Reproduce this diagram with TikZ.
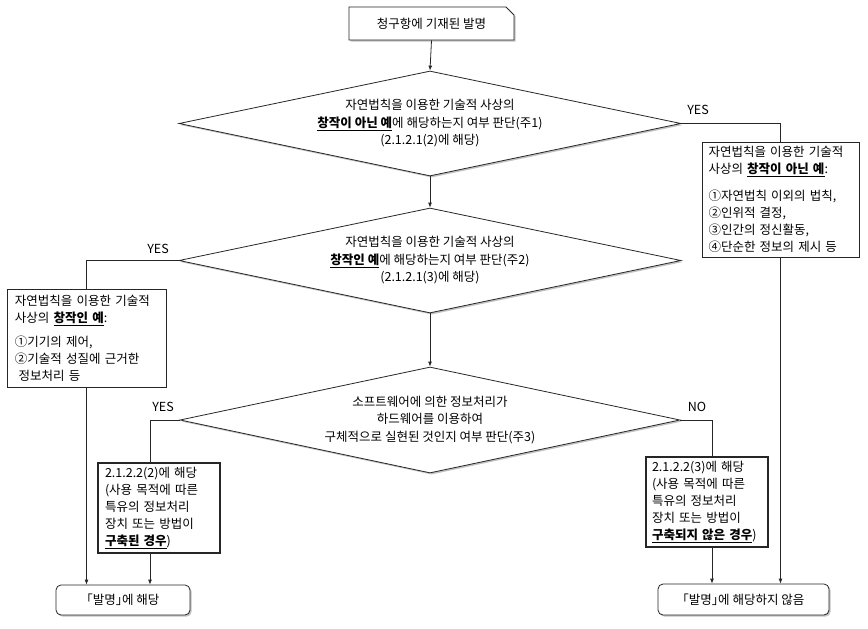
\documentclass[tikz,border=0pt]{standalone}
\usepackage{fontspec}
\setmainfont{Noto Sans CJK KR}
\usetikzlibrary{shapes.geometric,shapes.misc,arrows.meta,shadows}
\tikzset{
  ln/.style={draw=black!85,line width=0.8pt},
  arr/.style={ln,-{Latex[length=5pt,width=4pt]}},
  shd/.style={drop shadow={shadow xshift=1.6pt,shadow yshift=-1.6pt,fill=black!40,opacity=0.6}},
  txt/.style={font=\fontsize{12.5}{17}\selectfont},
  dia/.style={shape=diamond,aspect=4.78,ln,fill=white,shd,inner sep=0pt,align=center,
    font=\fontsize{12.5}{17.5}\selectfont},
  tbox/.style={ln,fill=white,txt,align=left,inner sep=0pt},
  thickbox/.style={tbox,line width=1.7pt},
  endbox/.style={ln,fill=white,shd,rounded corners=5pt,txt,align=center,inner sep=0pt},
  lbl/.style={txt,inner sep=0pt}
}
\newcommand{\ub}[1]{\underline{\textbf{#1}}}
\begin{document}
\begin{tikzpicture}[x=1pt,y=-1pt]
\useasboundingbox (0,0) rectangle (868,629);

\node[shape=chamfered rectangle,chamfered rectangle corners=north east,
  chamfered rectangle xsep=4pt,chamfered rectangle ysep=4pt,
  ln,fill=white,shd,txt,minimum width=165pt,minimum height=33pt,inner sep=0pt]
  (top) at (431.5,23.5) {청구항에 기재된 발명};

\node[dia,minimum width=502pt,minimum height=105pt] (d1) at (430,123.5)
  {자연법칙을 이용한 기술적 사상의\\\ub{창작이 아닌 예}에 해당하는지 여부 판단(주1)\\(2.1.2.1(2)에 해당)};

\node[dia,minimum width=502pt,minimum height=105pt] (d2) at (430,260.5)
  {자연법칙을 이용한 기술적 사상의\\\ub{창작인 예}에 해당하는지 여부 판단(주2)\\(2.1.2.1(3)에 해당)};

\node[dia,minimum width=500pt,minimum height=106pt] (d3) at (430,420)
  {소프트웨어에 의한 정보처리가\\하드웨어를 이용하여\\구체적으로 실현된 것인지 여부 판단(주3)};

\node[tbox,minimum width=157pt,minimum height=115pt,text width=144pt] (rb) at (780.5,199.5)
  {\makebox[\linewidth][s]{자연법칙을 이용한 기술적}\\사상의 \ub{창작이 아닌 예}:\\[10pt]①자연법칙 이외의 법칙,\\②인위적 결정,\\③인간의 정신활동,\\④단순한 정보의 제시 등};

\node[tbox,minimum width=159pt,minimum height=98pt,text width=143pt] (lb) at (86.5,338)
  {\makebox[\linewidth][s]{자연법칙을 이용한 기술적}\\사상의 \ub{창작인 예}:\\[7pt]①기기의 제어,\\②기술적 성질에 근거한\\\hspace*{0.3em}정보처리 등};

\node[thickbox,minimum width=122pt,minimum height=90pt,text width=108pt] (b3) at (159,508)
  {2.1.2.2(2)에 해당\\(사용 목적에 따른\\특유의 정보처리\\장치 또는 방법이\\\ub{구축된 경우})};

\node[thickbox,minimum width=122pt,minimum height=90pt,text width=110pt] (b4) at (707,502)
  {2.1.2.2(3)에 해당\\(사용 목적에 따른\\특유의 정보처리\\장치 또는 방법이\\\ub{구축되지 않은 경우})};

\node[endbox,minimum width=134pt,minimum height=30pt] (bl) at (123,600) {｢발명｣에 해당};
\node[endbox,minimum width=171pt,minimum height=31pt] (br) at (743.5,599.5) {｢발명｣에 해당하지 않음};

\node[lbl] (yes1) at (698,110) {YES};
\node[lbl] (yes2) at (158,249) {YES};
\node[lbl] (yes3) at (163,407) {YES};
\node[lbl] (no1) at (697,407) {NO};

\draw[arr] (top.south) -- (d1.north);
\draw[arr] (d1.south) -- (d2.north);
\draw[arr] (d2.south) -- (d3.north);
\draw[ln] (d1.east) -| (rb.north);
\draw[ln] (d2.west) -| (lb.north);
\draw[ln] (d3.west) -| ([xshift=-9pt]b3.north);
\draw[ln] (d3.east) -| ([xshift=5pt]b4.north);
\draw[arr] (lb.south) -- (lb.south |- bl.north);
\draw[arr] ([xshift=-9pt]b3.south) -- ([xshift=-9pt]b3.south |- bl.north);
\draw[arr] ([xshift=5pt]b4.south) -- ([xshift=5pt]b4.south |- br.north);
\draw[arr] (rb.south) -- (rb.south |- br.north);
\end{tikzpicture}
\end{document}
